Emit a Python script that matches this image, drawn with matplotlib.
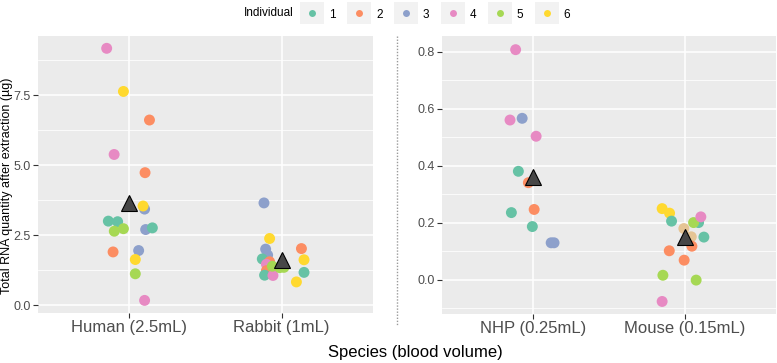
import numpy as np
import matplotlib.pyplot as plt
from matplotlib.lines import Line2D
from matplotlib.patches import Rectangle

plt.rcParams['font.family'] = ['Liberation Sans', 'DejaVu Sans']

# Set2 colours per individual (7 = tan points seen in Mouse, not in legend)
ind_colors = {1: '#66C2A5', 2: '#FC8D62', 3: '#8DA0CB', 4: '#E78AC3',
              5: '#A6D854', 6: '#FFD92F', 7: '#E5C494'}
legend_ids = [1, 2, 3, 4, 5, 6]

# --- data ---
human_ind = [4, 6, 2, 4, 2, 3, 6, 1, 1, 5, 5, 3, 1, 2, 3, 6, 5, 4]
human_dx = [-0.149, -0.039, 0.132, -0.10, 0.103, 0.10, 0.09, -0.138, -0.077,
            -0.039, -0.099, 0.107, 0.151, -0.107, 0.061, 0.039, 0.039, 0.10]
human_val = [9.18, 7.64, 6.62, 5.39, 4.74, 3.44, 3.55, 3.01, 2.99,
             2.74, 2.65, 2.71, 2.77, 1.91, 1.96, 1.64, 1.13, 0.18]

rabbit_ind = [3, 6, 2, 3, 3, 1, 6, 2, 4, 4, 2, 1, 1, 4, 6, 5, 5, 5]
rabbit_dx = [-0.116, -0.079, 0.13, -0.105, -0.092, -0.127, 0.147, -0.079, -0.092,
             -0.10, -0.10, 0.147, -0.112, -0.057, 0.097, -0.061, 0.015, -0.013]
rabbit_val = [3.66, 2.39, 2.03, 2.01, 1.80, 1.66, 1.63, 1.56, 1.42,
              1.47, 1.24, 1.18, 1.08, 1.07, 0.84, 1.40, 1.36, 1.35]

nhp_ind = [4, 4, 3, 4, 1, 2, 1, 2, 1, 3, 3]
nhp_dx = [-0.115, -0.152, -0.072, 0.02, -0.097, -0.031, -0.143, 0.007, -0.005, 0.119, 0.138]
nhp_val = [0.808, 0.561, 0.567, 0.504, 0.381, 0.341, 0.236, 0.247, 0.187, 0.130, 0.130]

mouse_ind = [6, 6, 1, 1, 5, 4, 7, 7, 1, 2, 2, 2, 5, 5, 4]
mouse_dx = [-0.15, -0.101, -0.088, 0.09, 0.057, 0.105, -0.007, 0.042, 0.125,
            0.046, -0.103, -0.005, -0.145, 0.074, -0.15]
mouse_val = [0.250, 0.234, 0.206, 0.201, 0.201, 0.221, 0.180, 0.151, 0.150,
             0.118, 0.102, 0.069, 0.016, -0.001, -0.076]

left_labels = ['Human (2.5mL)', 'Rabbit (1mL)']
left_means = [3.65, 1.62]
right_labels = ['NHP (0.25mL)', 'Mouse (0.15mL)']
right_means = [0.361, 0.151]

W, H = 777, 363
fig = plt.figure(figsize=(W / 100, H / 100), dpi=100)


def px(x0, y0, x1, y1):
    return [x0 / W, 1 - y1 / H, (x1 - x0) / W, (y1 - y0) / H]


def panel(ax, labels, groups, means, yticks, ylim):
    ax.set_facecolor('#EBEBEB')
    for s in ax.spines.values():
        s.set_visible(False)
    ax.set_xlim(0.4, 2.6)
    ax.set_ylim(*ylim)
    ax.set_xticks([1, 2])
    ax.set_xticklabels(labels, fontsize=12, color='#4D4D4D')
    ax.set_yticks(yticks)
    step = yticks[1] - yticks[0]
    minor = np.arange(yticks[0] - step / 2, ylim[1], step)
    ax.set_yticks([m for m in minor if ylim[0] < m < ylim[1]], minor=True)
    ax.tick_params(axis='y', which='major', labelsize=9, labelcolor='#4D4D4D',
                   color='#333333', length=3.5, width=0.8, pad=1.5)
    ax.tick_params(axis='x', which='major', color='#333333', length=3.5,
                   width=0.8, pad=1.5)
    ax.tick_params(axis='y', which='minor', length=0)
    ax.grid(True, which='major', color='white', linewidth=1.1)
    ax.grid(True, which='minor', axis='y', color='white', linewidth=0.55)
    ax.set_axisbelow(True)
    for i, (inds, dxs, vals) in enumerate(groups):
        xs = [i + 1 + d for d in dxs]
        cols = [ind_colors[k] for k in inds]
        ax.scatter(xs, vals, s=62, c=cols, linewidths=0, zorder=3)
    ax.plot([1, 2], means, linestyle='none', marker='^', markersize=12,
            markerfacecolor='#474747', markeredgecolor='black',
            markeredgewidth=0.8, zorder=4)


axL = fig.add_axes(px(38, 36, 373, 313))
panel(axL, left_labels,
      [(human_ind, human_dx, human_val), (rabbit_ind, rabbit_dx, rabbit_val)],
      left_means, [0.0, 2.5, 5.0, 7.5], (-0.27, 9.62))
axL.set_yticklabels(['0.0', '2.5', '5.0', '7.5'])
axL.set_ylabel('Total RNA quantity after extraction (µg)', fontsize=9,
               color='black', va='center')
axL.yaxis.set_label_coords(-31 / 335, 0.46)

axR = fig.add_axes(px(442, 36, 776, 314))
panel(axR, right_labels,
      [(nhp_ind, nhp_dx, nhp_val), (mouse_ind, mouse_dx, mouse_val)],
      right_means, [0.0, 0.2, 0.4, 0.6, 0.8], (-0.12, 0.856))
axR.set_yticklabels(['0.0', '0.2', '0.4', '0.6', '0.8'])

# dotted separator between panels
fig.add_artist(Line2D([397 / W, 397 / W], [1 - 36 / H, 1 - 325 / H],
                      color='#9A9A9A', linestyle=(0, (1, 1.2)), linewidth=1.0))

fig.text(415 / W, 1 - 352 / H, 'Species (blood volume)', ha='center',
         va='center', fontsize=12)

# legend on top
leg = fig.add_axes([0, 0, 1, 1], facecolor='none')
leg.set_xlim(0, W)
leg.set_ylim(H, 0)
leg.axis('off')
leg.text(269, 13, 'Individual', ha='center', va='center', fontsize=8.5)
key_x0, key_step = 312.3, 46.9
for j, k in enumerate(legend_ids):
    cx = key_x0 + j * key_step
    leg.add_patch(Rectangle((cx - 12, 2), 24, 22, facecolor='#F2F2F2',
                            edgecolor='none'))
    leg.plot(cx, 13, 'o', markersize=5, color=ind_colors[k], markeredgewidth=0)
    leg.text(cx + 20, 14.5, str(k), ha='center', va='center', fontsize=8.5)

fig.savefig('out.png', dpi=100)
